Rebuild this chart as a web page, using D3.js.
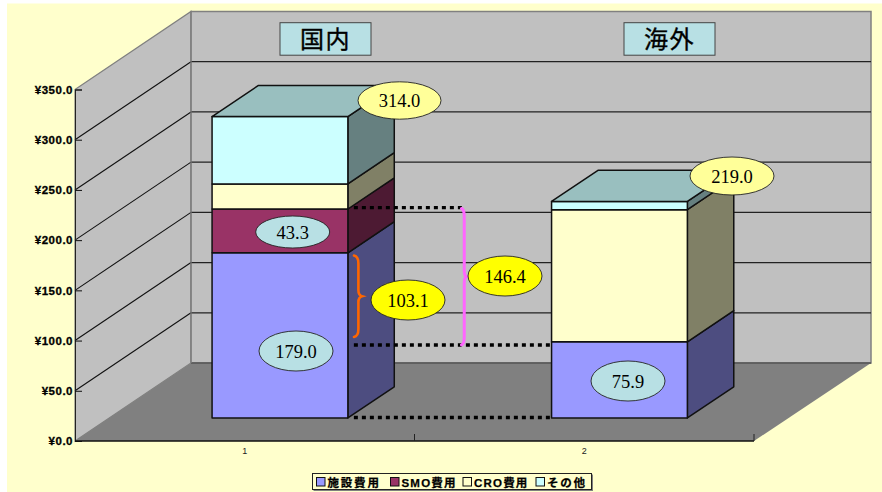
<!DOCTYPE html>
<html><head><meta charset="utf-8">
<script src="https://cdn.jsdelivr.net/npm/d3@7"></script>
<style>html,body{margin:0;padding:0;background:#fff}svg{display:block}</style>
</head><body><svg id="c" width="882" height="492"></svg>
<script>
const categories = ["1","2"];
const seriesNames = ["施設費用","SMO費用","CRO費用","その他"];
const facility = [164.5,75.9];
const smo = [43.6,0];
const cro = [25,131.5];
const other = [67,8.2];
const yTicks = [0,50,100,150,200,250,300,350];
const tickLabels = ["¥0.0","¥50.0","¥100.0","¥150.0","¥200.0","¥250.0","¥300.0","¥350.0"];
const seriesColors = ["#9999FF","#993366","#FFFFCC","#CCFFFF"];
const panelTitles = ["国内","海外"];
const calloutLabels = ["314.0","43.3","179.0","103.1","146.4","219.0","75.9"];
const calloutFills = ["#FFFF99","#B8E0E4","#B8E0E4","#FFFF00","#FFFF00","#FFFF99","#B8E0E4"];
const calloutX = [399.5,292.7,296,408,505,732,628];
const calloutY = [100.5,232,351,300,276,176,381];
const calloutRX = [41.5,37,37,37,37,42,37];
const calloutRY = [18.7,16,20,20,20,19,20];
const titleX = [280,624];
const connectorLevels = [209.5,72.7,0.5];

const svg = d3.select("#c");
const y = d3.scaleLinear().domain([0,350]).range([441,89.5]);
const x = d3.scaleBand().domain(categories).range([76,755]);
const depth = {x:116,y:-78};
const barW = x.step()*0.4, front=0.295, back=0.695;
const pts = a => a.map(p=>p.join(",")).join(" ");
const shade = (c,k)=>{const r=d3.rgb(c);return d3.rgb(r.r*k,r.g*k,r.b*k).formatHex();};

svg.append("rect").attr("x",7).attr("y",3.5).attr("width",875).attr("height",488.5).attr("fill","#FFFFCC");

// walls and floor
const yBase=y(0), xL=75, xR=754;
svg.append("polygon").attr("points",pts([[xL,y(350)],[xL+depth.x,y(350)+depth.y],[xL+depth.x,yBase+depth.y],[xL,yBase]]))
  .attr("fill","#C0C0C0").attr("stroke","#808080").attr("stroke-width",1.2);
svg.append("polygon").attr("points",pts([[xL+depth.x,y(350)+depth.y],[xR+depth.x+1,y(350)+depth.y],[xR+depth.x+1,yBase+depth.y],[xL+depth.x,yBase+depth.y]]))
  .attr("fill","#C0C0C0").attr("stroke","#808080").attr("stroke-width",1.5);
svg.append("polygon").attr("points",pts([[xL,yBase],[xR,yBase],[xR+depth.x+1,yBase+depth.y],[xL+depth.x,yBase+depth.y]]))
  .attr("fill","#808080");

// gridlines
const grid = yTicks.filter(t=>t>0 && t<350);
svg.append("g").selectAll("line").data(grid).join("line")
  .attr("x1",xL).attr("y1",d=>y(d)).attr("x2",xL+depth.x).attr("y2",d=>y(d)+depth.y)
  .attr("stroke","#111").attr("stroke-width",1.1);
svg.append("g").selectAll("line").data(grid.concat([0])).join("line")
  .attr("x1",xL+depth.x).attr("y1",d=>y(d)+depth.y).attr("x2",xR+depth.x+1).attr("y2",d=>y(d)+depth.y)
  .attr("stroke",d=>d===0?"#555":"#222").attr("stroke-width",d=>d===0?1.5:1.2);
svg.append("line").attr("x1",xL+depth.x).attr("x2",xL+depth.x).attr("y1",y(350)+depth.y).attr("y2",yBase+depth.y)
  .attr("stroke","#808080").attr("stroke-width",1.2);

// axes
const axisY = d3.axisRight(y).tickValues(yTicks).tickSize(7).tickFormat("");
const gy = svg.append("g").attr("transform",`translate(${xL},0)`).call(axisY);
gy.selectAll("path").attr("stroke","#222").attr("stroke-width",1);
gy.selectAll("line").attr("stroke","#111");
svg.append("g").selectAll("text").data(yTicks).join("text")
  .attr("x",73).attr("y",d=>y(d)+4.2).attr("text-anchor","end")
  .attr("font-family","Liberation Sans").attr("font-weight","bold").attr("font-size",11.5)
  .attr("letter-spacing",0.5).attr("stroke","#000").attr("stroke-width",0.3).attr("fill","#000").text((d,i)=>tickLabels[i]);
svg.append("line").attr("x1",xL).attr("x2",xR).attr("y1",yBase).attr("y2",yBase).attr("stroke","#111").attr("stroke-width",1.5);
[x("2")-1,xR].forEach(px=>svg.append("line").attr("x1",px).attr("x2",px).attr("y1",yBase).attr("y2",yBase-7).attr("stroke","#222"));
svg.append("g").selectAll("text").data(categories).join("text")
  .attr("x",d=>x(d)+x.bandwidth()/2-1).attr("y",453.5).attr("text-anchor","middle")
  .attr("font-family","Liberation Sans").attr("font-size",9).attr("fill","#222").text(d=>d);

// stacked 3D bars
const rows = categories.map((c,i)=>({c,a:facility[i],b:smo[i],d:cro[i],e:other[i]}));
const stack = d3.stack().keys(["a","b","d","e"])(rows);
const dx0=depth.x*front, dy0=depth.y*front;
const dx=depth.x*(back-front), dy=depth.y*(back-front);
const barG = svg.append("g").attr("stroke","#111").attr("stroke-width",1.5).attr("stroke-linejoin","round");
categories.forEach((c,i)=>{
  const l = x(c)+x.bandwidth()/2+dx0-barW/2, r=l+barW;
  stack.forEach((s,k)=>{
    const [v0,v1]=s[i]; if(v1-v0<=0) return;
    const t=y(v1)+dy0, b=y(v0)+dy0, col=seriesColors[k];
    barG.append("polygon").attr("points",pts([[r,t],[r+dx,t+dy],[r+dx,b+dy],[r,b]])).attr("fill",shade(col,0.5));
    barG.append("rect").attr("x",l).attr("y",t).attr("width",barW).attr("height",b-t).attr("fill",col);
    if(k===stack.length-1)
      barG.append("polygon").attr("points",pts([[l,t],[r,t],[r+dx,t+dy],[l+dx,t+dy]])).attr("fill",shade(col,0.75));
  });
});

// panel titles
titleX.forEach((tx,i)=>{
  svg.append("rect").attr("x",tx).attr("y",22.7).attr("width",91).attr("height",32.5)
    .attr("fill","#B8E0E4").attr("stroke","#444").attr("stroke-width",1);
  svg.append("text").attr("x",tx+45.5).attr("y",48).attr("text-anchor","middle")
    .attr("font-family","Noto Sans CJK JP").attr("font-size",24).attr("letter-spacing",1.5).attr("stroke","#000").attr("stroke-width",0.35).attr("fill","#000").text(panelTitles[i]);
});

// dotted connectors, anchored to the value scale
const firstR = x("1")+x.bandwidth()/2+dx0+barW/2, secondL = x("2")+x.bandwidth()/2+dx0-barW/2;
const connectorEnds = [462,secondL,secondL];
connectorLevels.forEach((v,i)=>{
  const py=y(v)+dy0;
  svg.append("line").attr("x1",firstR+6).attr("x2",connectorEnds[i]).attr("y1",py).attr("y2",py)
    .attr("stroke","#000").attr("stroke-width",3.4).attr("stroke-dasharray","4 4");
});

// braces
const brace=(x0,yt,yb,w,col,sw)=>{
  const m=(yt+yb)/2;
  svg.append("path").attr("fill","none").attr("stroke",col).attr("stroke-width",sw).attr("stroke-linecap","round")
   .attr("d",`M${x0},${yt} Q${x0+w*0.55},${yt+1} ${x0+w*0.55},${yt+8} L${x0+w*0.55},${m-6} Q${x0+w*0.55},${m-1} ${x0+w},${m} Q${x0+w*0.55},${m+1} ${x0+w*0.55},${m+6} L${x0+w*0.55},${yb-8} Q${x0+w*0.55},${yb-1} ${x0},${yb}`);
};
brace(354,255.5,337,8,"#FF6600",2.6);
brace(461.5,208.5,345,5,"#FF66FF",3);

// callouts
const cg = svg.append("g").selectAll("g").data(calloutLabels).join("g");
cg.append("ellipse").attr("cx",(d,i)=>calloutX[i]).attr("cy",(d,i)=>calloutY[i])
  .attr("rx",(d,i)=>calloutRX[i]).attr("ry",(d,i)=>calloutRY[i])
  .attr("fill",(d,i)=>calloutFills[i]).attr("stroke","#222").attr("stroke-width",0.9);
cg.append("text").attr("x",(d,i)=>calloutX[i]).attr("y",(d,i)=>calloutY[i]+6.5).attr("text-anchor","middle")
  .attr("font-family","Liberation Serif").attr("font-size",18.5).attr("fill","#000").text(d=>d);

// legend
const legX=[316.5,390.5,463,536];
svg.append("rect").attr("x",313.5).attr("y",474.5).attr("width",279.5).attr("height",16.5).attr("fill","#808080");
svg.append("rect").attr("x",312.5).attr("y",473.5).attr("width",279).attr("height",16).attr("fill","#FFFFCC").attr("stroke","#222").attr("stroke-width",1);
const lg = svg.append("g").selectAll("g").data(seriesNames).join("g");
lg.append("rect").attr("x",(d,i)=>legX[i]).attr("y",477.5).attr("width",8.5).attr("height",8.5)
  .attr("fill",(d,i)=>seriesColors[i]).attr("stroke","#111").attr("stroke-width",1);
lg.append("text").attr("x",(d,i)=>legX[i]+11).attr("y",486.5).attr("font-family","'Liberation Sans','Noto Sans CJK JP'")
  .attr("font-weight","bold").attr("font-size",11.5).attr("letter-spacing",(d,i)=>i===0||i===3?1.8:1.2).attr("stroke","#000").attr("stroke-width",0.25).attr("fill","#000").text(d=>d);
</script></body></html>
